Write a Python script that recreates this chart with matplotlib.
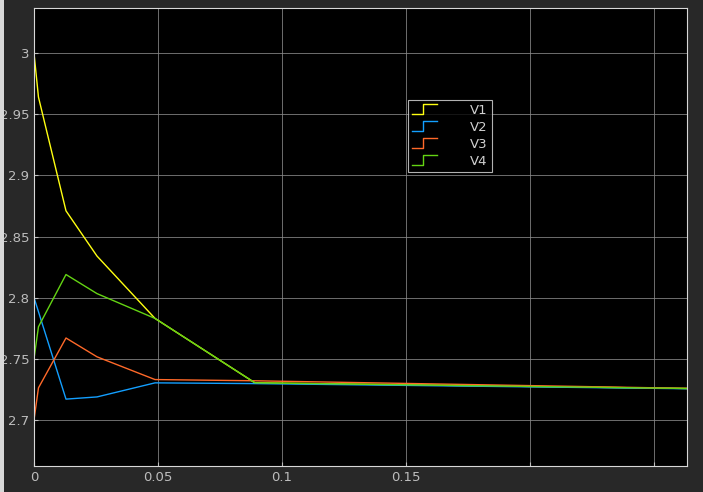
import matplotlib
matplotlib.use("Agg")
import matplotlib.pyplot as plt
from matplotlib.lines import Line2D
from matplotlib.legend_handler import HandlerLine2D
from matplotlib.patches import Rectangle

# time samples (s) and the four voltage traces
t = [0.0, 0.0018, 0.0129, 0.0254, 0.0488, 0.0891, 0.2633]
v1 = [3.000, 2.964, 2.871, 2.834, 2.783, 2.7303, 2.7257]
v2 = [2.800, 2.7885, 2.717, 2.7188, 2.7303, 2.7297, 2.7255]
v3 = [2.700, 2.7262, 2.767, 2.7516, 2.7330, 2.7320, 2.7258]
v4 = [2.750, 2.7762, 2.8189, 2.8033, 2.7830, 2.7303, 2.7257]
series = [("V1", v1), ("V2", v2), ("V3", v3), ("V4", v4)]
colors = ["#ffff11", "#139fff", "#ff6929", "#64d413"]

xticks = [0, 0.05, 0.1, 0.15, 0.2, 0.25]
xlabels = ["0", "0.05", "0.1", "0.15", "", ""]
yticks = [2.7, 2.75, 2.8, 2.85, 2.9, 2.95, 3.0]
ylabels = ["2.7", "2.75", "2.8", "2.85", "2.9", "2.95", "3"]

bg = "#282828"
txt = "#bdbdbd"


class StepHandler(HandlerLine2D):
    # draws the little step glyph that Simulink uses in scope legends
    def create_artists(self, legend, orig_handle, xdescent, ydescent,
                       width, height, fontsize, trans):
        x0, x1 = -xdescent, -xdescent + width
        xm = x0 + width * 0.45
        y0, y1 = -ydescent, -ydescent + height * 1.1
        line = Line2D([x0, xm, xm, x1], [y0, y0, y1, y1],
                      color=orig_handle.get_color(), lw=1.0)
        line.set_transform(trans)
        return [line]


fig = plt.figure(figsize=(7.03, 4.92), dpi=100, facecolor=bg)
ax = fig.add_axes([34 / 703, 26 / 492, 653 / 703, 458 / 492], facecolor="black")

handles = []
for (name, vals), c in zip(series, colors):
    h, = ax.plot(t, vals, color=c, lw=1.0, label=name)
    handles.append(h)

ax.set_xlim(0, 0.2633)
ax.set_ylim(2.6623, 3.0369)
ax.set_xticks(xticks)
ax.set_xticklabels(xlabels)
ax.set_yticks(yticks)
ax.set_yticklabels(ylabels)
ax.grid(True, color="#8a8a8a", lw=0.7, alpha=0.8)
ax.tick_params(colors=txt, labelsize=9.5, direction="in", length=3,
               labelcolor=txt)
for s in ax.spines.values():
    s.set_color("#d8d8d8")
    s.set_linewidth(0.8)

leg = ax.legend(handles=handles, handler_map={Line2D: StepHandler()},
                loc="upper left", bbox_to_anchor=((404 - 34) / 653, (466 - 96) / 458),
                frameon=True, facecolor="black", edgecolor="#e0e0e0",
                fontsize=9.5, handlelength=1.9, handletextpad=2.5,
                labelspacing=0.3, borderpad=0.32, borderaxespad=0.3,
                fancybox=False)
for tx in leg.get_texts():
    tx.set_color("#d0d0d0")
leg.get_frame().set_linewidth(0.8)

# light strip at the left edge of the window
fig.patches.append(Rectangle((0, 0), 4 / 703, 1, transform=fig.transFigure,
                             facecolor="#d8d8d8", edgecolor="none"))

fig.savefig("out.png", dpi=100, facecolor=bg)
